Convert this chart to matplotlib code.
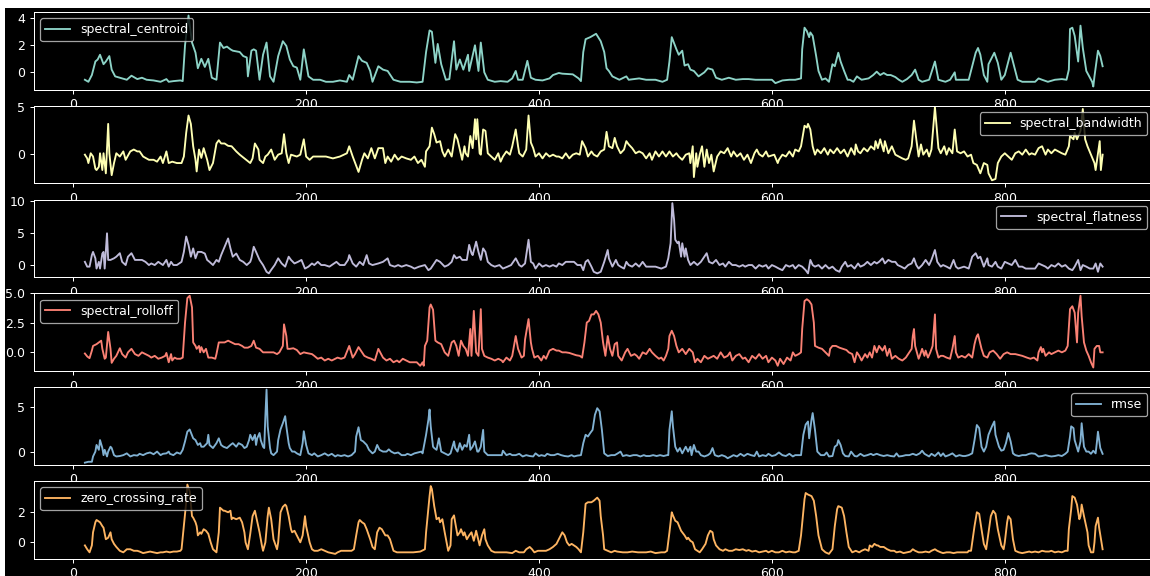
import numpy as np
import matplotlib
matplotlib.use("Agg")
import matplotlib.pyplot as plt
from matplotlib.patches import Rectangle

# values, (index, value) vertices per feature
spectral_centroid = [
    (10, -0.55), (13, -0.7), (16, -0.2), (19, 0.8), (21, 0.95), (23, 1.3), (26, 0.6), (28, 0.8), (31, 1.2), (33, 0.2),
    (36, -0.3), (40, -0.4), (46, -0.55), (50, -0.25), (55, -0.5), (59, -0.4), (63, -0.55), (69, -0.6), (75, -0.7), (80, -0.5),
    (82, -0.7), (86, -0.65), (92, -0.6), (94, -0.65), (96, 2.0), (99, 4.2), (102, 2.2), (105, 1.45), (107, 0.3), (110, 1.0),
    (113, 0.4), (116, 1.0), (119, -0.4), (123, -0.55), (126, 2.2), (129, 1.8), (132, 1.9), (135, 1.7), (137, 1.6), (143, 1.5),
    (146, 1.2), (149, 1.1), (150, -0.3), (153, 1.6), (155, 1.7), (157, 1.6), (160, -0.55), (163, 1.3), (166, 2.2), (169, -0.3),
    (172, -0.7), (176, 1.2), (180, 2.3), (183, 1.95), (186, 0.95), (189, 0.45), (192, 0.35), (195, -0.55), (198, 1.7), (202, -0.3),
    (206, -0.55), (212, -0.55), (217, -0.7), (223, -0.7), (229, -0.6), (235, -0.7), (237, -0.2), (240, -0.55), (245, 1.2), (248, 0.85),
    (252, 0.7), (255, 0.1), (257, -0.7), (262, 0.45), (266, 0.2), (270, 0.1), (275, -0.55), (281, -0.7), (289, -0.7), (295, -0.75),
    (300, -0.7), (303, 1.5), (306, 3.1), (308, 3.0), (311, 0.7), (313, 2.1), (316, 0.6), (320, -0.55), (323, -0.5), (327, 2.3),
    (329, 0.2), (332, 0.95), (335, 0.2), (339, 1.3), (340, 0.1), (345, 2.0), (348, 0.1), (350, 2.2), (353, 0.0), (356, -0.55),
    (362, -0.7), (367, -0.65), (373, -0.7), (377, -0.45), (380, 0.1), (382, -0.55), (386, -0.55), (390, 0.85), (393, -0.4), (397, -0.55),
    (403, -0.6), (409, -0.45), (412, -0.2), (417, -0.05), (420, -0.1), (429, -0.15), (434, -0.45), (436, -0.65), (438, 1.5), (440, 2.45),
    (444, 2.6), (449, 2.85), (453, 2.3), (456, 1.5), (458, 0.3), (460, 0.1), (463, -0.3), (469, -0.55), (475, -0.3), (477, -0.55),
    (486, -0.45), (492, -0.55), (500, -0.55), (506, -0.7), (510, -0.55), (512, 0.8), (514, 2.6), (518, 1.7), (520, 1.3), (523, 1.6),
    (525, 0.5), (528, 0.6), (530, 0.2), (533, 0.1), (537, -0.3), (542, 0.0), (545, 0.3), (549, 0.2), (552, -0.4), (557, -0.55),
    (563, -0.4), (569, -0.55), (575, -0.5), (580, -0.5), (586, -0.55), (589, -0.55), (600, -0.55), (603, -0.8), (609, -0.6), (615, -0.55),
    (620, -0.55), (625, -0.45), (626, 1.7), (628, 3.3), (630, 3.05), (632, 2.6), (633, 2.95), (635, 2.7), (638, 1.2), (640, 0.1),
    (643, -0.55), (646, -0.45), (649, -0.7), (652, 0.6), (654, 0.45), (657, 1.45), (659, 0.8), (662, 0.1), (665, -0.55), (667, -0.55),
    (670, -0.7), (673, -0.3), (677, -0.55), (683, -0.45), (687, -0.2), (690, 0.05), (693, -0.2), (696, -0.05), (699, -0.2), (702, -0.2),
    (706, -0.35), (709, -0.55), (712, -0.7), (716, -0.5), (720, -0.2), (723, 0.2), (726, -0.55), (729, -0.7), (735, -0.55), (740, 0.8),
    (743, -0.55), (749, -0.7), (753, -0.55), (757, 0.0), (758, -0.55), (763, -0.55), (769, -0.55), (772, 0.45), (775, 1.45), (777, 1.8),
    (779, 1.3), (782, -0.2), (785, -0.7), (786, 0.6), (789, 1.1), (791, 1.45), (794, 0.7), (797, -0.55), (800, -0.2), (803, 0.8),
    (805, 1.45), (808, 0.45), (811, -0.55), (815, -0.7), (820, -0.7), (826, -0.7), (829, -0.45), (832, -0.55), (837, -0.7), (843, -0.55),
    (849, -0.5), (853, -0.55), (855, 0.2), (856, 3.2), (858, 3.3), (860, 2.7), (863, 0.8), (865, 3.45), (867, 1.8), (870, 0.1),
    (875, -0.7), (876, -1.05), (877, -0.3), (880, 1.6), (882, 1.2), (884, 0.45),
]

spectral_bandwidth = [
    (10, -0.1), (12, -0.5), (13, -1.0), (15, 0.05), (17, -0.3), (19, -1.6), (20, -1.75), (22, -1.4), (23, 0.05), (25, -1.75),
    (26, 0.05), (28, -2.1), (30, 3.2), (31, 0.05), (33, -2.3), (35, -1.0), (37, 0.05), (40, -0.3), (43, 0.25), (45, -0.65),
    (49, 0.25), (52, 0.45), (55, 0.25), (57, 0.25), (60, -0.3), (65, -0.65), (69, -0.65), (72, -0.85), (75, -0.3), (77, -1.0),
    (80, 0.25), (82, -1.0), (85, -0.85), (89, -1.0), (93, -1.0), (95, -0.3), (97, 2.25), (99, 4.1), (101, 3.2), (103, 0.8),
    (105, -0.65), (106, -1.9), (108, 0.45), (110, -0.45), (112, 0.6), (115, -0.65), (117, -1.75), (120, -1.0), (123, 1.1), (125, 1.45),
    (127, 1.1), (130, 1.1), (133, 0.85), (136, 0.8), (140, 0.25), (143, -0.1), (147, -0.5), (152, -1.0), (154, -0.5), (156, 1.1),
    (159, 0.45), (160, -0.65), (163, -1.0), (165, -0.3), (167, -0.1), (170, 0.45), (173, -0.65), (176, -0.1), (179, 0.05), (181, 2.1),
    (183, 0.05), (185, -1.0), (187, -0.1), (192, -0.3), (195, -0.1), (198, 1.55), (200, -0.3), (203, -0.65), (206, -0.3), (212, -0.3),
    (217, -0.3), (223, -0.5), (229, -0.3), (235, 0.05), (237, 0.8), (240, -0.3), (245, -1.95), (248, -0.65), (250, 0.05), (253, -0.5),
    (256, 0.6), (259, -0.5), (262, 0.6), (266, 0.6), (268, -1.0), (270, -0.3), (273, -0.85), (276, -0.1), (279, -0.65), (282, -0.3),
    (286, -0.5), (290, -0.65), (293, -0.3), (296, -1.0), (299, -0.65), (302, -1.4), (303, 0.25), (306, 0.8), (308, 2.8), (310, 2.1),
    (312, 1.2), (315, 1.35), (317, 0.25), (319, -0.3), (322, 0.45), (325, -0.3), (328, 2.1), (330, 1.55), (332, 0.45), (334, -0.65),
    (336, 0.8), (337, 0.05), (339, -0.3), (341, 1.9), (343, 0.6), (345, 3.7), (346, 1.55), (347, 3.7), (349, 0.05), (350, -0.1),
    (352, 2.6), (354, 2.45), (356, 0.05), (359, -0.3), (362, -0.65), (365, 0.05), (367, -0.85), (369, -0.3), (372, 0.25), (375, -0.1),
    (377, 0.8), (380, 2.6), (382, 0.8), (383, 0.05), (386, -0.3), (389, 0.45), (391, 4.1), (393, 1.2), (395, 0.6), (397, -0.3),
    (400, 0.05), (403, -0.5), (406, 0.05), (409, -0.3), (412, -0.1), (415, -0.3), (417, -0.3), (420, -0.5), (423, 0.05), (426, -0.5),
    (429, -0.1), (432, 0.05), (435, -0.1), (437, 1.35), (440, 0.6), (442, -0.3), (445, 0.25), (447, -0.1), (450, -0.3), (453, 0.25),
    (456, 0.45), (458, 2.35), (460, 0.8), (463, 0.6), (465, 1.7), (467, 0.8), (470, 0.05), (473, 0.45), (475, 1.35), (477, 1.0),
    (480, 0.6), (483, 0.05), (486, 0.25), (489, 0.05), (492, -0.5), (495, 0.05), (497, -0.65), (500, 0.25), (503, -0.3), (506, 0.25),
    (509, -0.3), (512, 0.25), (515, -0.3), (518, 0.05), (520, -0.3), (523, -0.65), (526, -0.1), (529, 0.05), (530, -1.0), (532, 0.8),
    (533, -2.5), (535, 0.05), (536, -1.4), (538, -0.1), (540, 0.8), (542, -1.4), (544, 0.45), (546, -1.0), (548, -0.1), (550, -1.9),
    (553, -0.3), (556, 0.25), (559, 0.05), (562, 0.6), (565, -0.3), (567, 0.25), (570, -0.3), (573, 0.05), (576, -0.65), (579, -0.1),
    (582, -1.0), (585, 0.05), (587, 0.45), (589, -0.05), (592, -0.3), (595, 0.25), (597, -0.3), (602, -0.1), (605, -1.0), (606, -0.65),
    (609, -0.1), (612, -0.3), (615, 0.25), (618, -0.3), (620, 0.45), (623, 0.25), (625, 0.8), (628, 3.0), (630, 2.8), (631, 3.2),
    (633, 2.6), (635, 0.8), (637, -0.1), (639, 0.45), (642, 0.05), (645, 0.6), (648, -0.1), (650, 0.45), (653, 0.05), (656, 0.6),
    (659, 0.05), (662, 0.45), (665, -0.3), (668, 0.6), (671, -0.1), (672, 1.0), (674, 0.25), (676, 0.05), (679, 0.6), (682, 0.25),
    (685, 0.8), (688, 0.45), (689, 1.35), (691, 0.6), (693, 1.55), (696, 0.25), (697, 1.35), (700, 0.05), (703, 0.8), (706, -0.1),
    (709, -0.3), (712, -0.5), (715, -0.65), (717, -0.5), (720, 0.8), (722, 3.55), (724, 1.55), (726, -0.3), (728, 1.0), (730, -0.1),
    (733, 0.45), (735, -0.3), (737, 0.45), (740, 5.0), (743, 0.6), (745, 0.05), (748, 0.8), (750, -0.1), (752, 0.6), (755, 0.05),
    (757, 2.6), (759, 0.25), (762, 0.05), (765, 0.25), (768, -0.3), (771, -0.1), (773, -1.0), (776, -1.2), (779, -2.1), (782, -1.0),
    (785, -1.2), (786, -2.1), (789, -2.85), (792, -2.7), (794, -1.0), (797, -0.3), (800, 0.05), (803, -0.3), (806, -0.65), (809, 0.05),
    (812, 0.25), (815, -0.1), (818, 0.45), (821, -0.1), (823, 0.05), (826, -0.1), (829, 0.6), (832, 0.8), (835, -0.1), (837, 0.45),
    (840, 0.05), (843, 0.45), (846, 0.25), (849, 0.05), (852, -0.1), (855, 0.8), (856, 1.9), (859, 1.55), (860, 2.25), (862, 1.55),
    (865, 2.45), (867, 4.8), (869, 1.55), (871, 0.8), (874, -0.1), (877, -1.0), (878, -1.75), (880, 0.05), (881.5, 1.35), (882.5, -1.75),
    (884, -0.1),
]

spectral_flatness = [
    (10, 0.45), (12, -0.3), (14, -0.3), (16, 1.5), (17, 2.0), (19, 1.0), (20, -0.6), (22, 0.45), (23, -0.6), (25, 1.75),
    (26, 2.0), (27, -0.6), (29, 4.9), (30, 0.75), (32, 0.75), (35, 1.0), (37, 1.25), (40, 1.8), (42, 0.45), (45, -0.05),
    (47, 1.25), (50, 1.8), (53, 0.75), (56, 0.75), (59, 0.75), (62, 0.45), (65, -0.05), (67, 0.2), (70, -0.05), (73, 0.45),
    (77, -0.05), (80, 0.75), (82, -0.3), (84, 0.45), (86, -0.05), (89, -0.05), (93, 0.45), (95, 2.0), (97, 4.4), (99, 3.1),
    (101, 1.25), (103, 2.55), (105, 1.0), (107, 2.0), (110, 2.0), (113, 1.75), (115, 0.75), (117, 0.45), (120, -0.05), (123, 0.75),
    (125, 0.45), (127, 1.5), (130, 2.8), (133, 4.1), (135, 2.55), (137, 1.25), (140, 1.75), (143, 0.75), (146, 0.45), (149, -0.05),
    (152, 0.45), (153, 1.0), (155, 2.8), (157, 2.0), (160, 0.75), (163, -0.05), (166, -1.1), (168, -1.35), (170, -0.8), (173, -0.05),
    (176, 1.0), (179, 0.2), (182, -0.3), (185, 1.25), (187, 0.75), (190, 0.2), (193, 0.45), (196, 0.75), (199, -0.6), (202, -0.3),
    (205, 0.2), (207, -0.05), (210, 0.45), (213, -0.05), (216, -0.05), (220, -0.3), (226, 0.45), (229, -0.05), (233, -0.05), (236, 0.75),
    (237, 1.5), (240, 0.2), (243, -0.3), (246, 0.45), (249, -0.05), (252, 1.5), (254, 0.2), (257, -0.05), (262, 0.2), (266, 0.45),
    (270, 1.0), (272, -0.05), (276, -0.3), (279, -0.05), (282, -0.3), (286, -0.05), (290, -0.3), (293, -0.6), (297, -0.3), (302, -0.05),
    (305, -0.85), (307, -0.6), (312, 0.75), (315, 0.45), (319, -0.3), (322, -0.05), (325, 0.45), (327, 1.5), (329, 1.0), (332, 1.25),
    (334, 0.75), (338, 0.75), (340, 3.1), (342, 1.8), (343, 1.5), (346, 3.6), (348, 2.0), (350, 0.75), (352, 2.55), (354, 2.0),
    (356, 0.45), (359, -0.05), (362, -0.3), (366, -0.05), (369, -0.6), (373, -0.3), (376, -0.05), (379, 0.75), (380, 1.0), (383, -0.05),
    (385, -0.3), (388, 0.2), (391, 3.9), (393, 0.45), (395, 0.2), (397, -0.6), (400, 0.2), (403, -0.3), (406, -0.05), (409, -0.3),
    (412, -0.05), (415, -0.3), (417, 0.2), (420, -0.05), (423, 0.45), (427, 0.45), (430, 0.45), (433, -0.05), (436, -0.05), (438, -0.85),
    (440, 0.45), (442, 0.75), (445, -0.3), (447, -1.1), (450, -1.35), (453, -1.1), (456, 0.45), (459, 2.3), (460, 1.0), (463, -0.3),
    (466, 0.75), (468, -0.05), (470, -0.3), (473, -0.6), (475, 0.45), (477, -0.05), (480, -0.3), (483, 0.2), (486, -0.3), (489, 0.45),
    (492, -0.3), (496, -0.3), (500, -0.3), (505, -0.6), (509, -0.3), (511, 1.0), (513, 3.35), (514.5, 9.6), (516, 7.0), (517, 3.9),
    (519, 3.35), (520, 3.6), (522, 1.25), (523, 3.35), (525, 1.25), (526, 2.55), (528, 0.75), (530, -0.05), (533, 0.45), (536, -0.05),
    (539, 0.45), (542, 1.25), (544, 1.8), (546, 0.45), (549, 0.2), (552, 0.75), (555, -0.05), (558, 0.2), (560, -0.3), (563, 0.45),
    (566, -0.05), (569, -0.05), (572, -0.3), (575, -0.05), (577, -0.3), (580, -0.05), (583, -0.05), (586, -0.6), (589, -0.05), (592, -0.3),
    (595, -0.05), (597, -0.6), (600, -0.05), (603, -0.3), (606, -0.6), (609, -0.85), (612, -0.05), (615, -0.3), (618, -0.05), (620, -0.6),
    (623, -0.05), (626, -0.3), (629, -0.85), (631, -1.35), (633, 0.75), (635, -0.05), (637, -0.3), (640, -0.05), (643, -0.6), (646, -0.05),
    (649, -0.6), (652, -0.3), (655, -0.85), (658, -1.1), (660, -0.3), (663, 0.45), (665, -0.3), (668, -0.05), (671, -0.6), (674, 0.2),
    (676, -0.3), (679, -0.05), (682, 0.45), (685, -0.05), (688, 0.45), (690, 0.2), (692, 0.45), (695, 1.0), (697, 0.2), (700, 0.75),
    (703, 0.45), (706, 0.45), (708, -0.05), (711, -0.3), (714, -0.6), (717, -0.05), (720, 0.2), (722, 1.0), (724, -0.05), (726, -0.6),
    (729, -0.05), (732, 0.75), (735, -0.05), (737, 0.75), (740, 2.3), (742, 0.45), (745, -0.3), (747, -0.05), (750, -0.3), (753, -0.6),
    (756, 0.75), (758, -0.3), (760, -0.6), (765, -0.3), (769, -0.6), (772, 1.25), (775, 1.8), (777, 1.0), (779, 1.25), (782, -0.3),
    (785, 1.0), (786, -0.05), (789, -0.3), (792, 0.45), (794, -0.3), (797, -0.6), (800, 0.45), (803, 0.2), (806, -0.05), (809, 0.75),
    (812, -0.3), (815, -0.3), (818, -0.6), (821, -0.6), (823, -0.6), (826, -0.6), (829, 0.2), (832, -0.05), (835, -0.3), (837, -0.6),
    (840, -0.05), (843, -0.3), (846, 0.2), (849, -0.3), (852, -0.05), (855, -0.6), (858, -0.85), (860, -0.3), (863, 0.75), (865, -0.85),
    (867, -0.05), (870, -0.3), (873, -0.6), (876, -0.6), (878, 0.2), (880, -1.1), (882, 0.2), (884, -0.3),
]

spectral_rolloff = [
    (10, -0.15), (12, -0.4), (14, -0.55), (16, 0.1), (17, 0.5), (20, 0.65), (22, 0.8), (24, 0.95), (25, 0.25), (27, -0.6),
    (28, -0.5), (30, 1.7), (32, 0.25), (33, -0.95), (35, -0.6), (37, -0.35), (40, 0.3), (42, -0.2), (45, -0.5), (47, -0.05),
    (50, 0.25), (53, -0.2), (56, -0.35), (59, -0.05), (62, -0.2), (65, -0.35), (67, -0.5), (70, -0.35), (73, -0.6), (76, -0.5),
    (79, -0.35), (80, -0.1), (82, -0.9), (84, -0.2), (85, -0.75), (87, -0.5), (89, -0.6), (92, -0.6), (94, -0.5), (96, 2.5),
    (98, 4.6), (100, 4.8), (102, 3.8), (103, 0.8), (105, 0.5), (106, 0.25), (108, 0.5), (109, -0.05), (110, 0.4), (112, -0.05),
    (114, 0.25), (116, -0.5), (119, -0.5), (122, -0.6), (123, -0.2), (125, 0.8), (127, 0.8), (130, 0.8), (133, 0.95), (136, 0.8),
    (139, 0.65), (142, 0.65), (145, 0.5), (147, 0.35), (150, 0.35), (153, 0.5), (155, 0.95), (157, 0.35), (160, 0.25), (163, -0.05),
    (166, -0.05), (169, -0.05), (172, -0.05), (175, -0.2), (177, -0.05), (180, 0.5), (181, 2.35), (183, 1.35), (184, 0.25), (186, 0.25),
    (189, 0.3), (192, 0.15), (195, -0.2), (198, -0.05), (200, -0.1), (205, -0.2), (207, -0.35), (210, -0.6), (213, -0.5), (216, -0.75),
    (219, -0.6), (222, -0.75), (225, -0.6), (227, -0.5), (230, -0.6), (233, -0.5), (236, 0.25), (237, 0.5), (240, -0.5), (242, -0.2),
    (245, 0.4), (247, 0.1), (250, -0.35), (253, -0.5), (256, -0.6), (259, -0.75), (262, 0.25), (266, -0.5), (269, -0.75), (272, -0.6),
    (275, -0.9), (278, -0.75), (280, -0.9), (283, -0.6), (286, -0.75), (289, -0.9), (292, -0.9), (295, -0.9), (298, -1.2), (300, -0.9),
    (301, -1.2), (302, 0.5), (304, 0.95), (306, 3.8), (307, 4.05), (309, 3.6), (311, 0.95), (313, 0.8), (316, 0.65), (319, -0.05),
    (322, -0.35), (325, 0.8), (327, 0.95), (329, 0.5), (331, -0.35), (333, 0.95), (335, 0.5), (337, 0.25), (339, -0.35), (341, 1.95),
    (342, -0.35), (344, 3.5), (346, -0.05), (348, -0.35), (350, 3.65), (351, 0.25), (353, -0.35), (356, -0.5), (359, -0.6), (362, -0.75),
    (365, -0.6), (368, -0.75), (369, -0.9), (372, -0.5), (375, -0.75), (377, -0.35), (380, 1.35), (382, 0.25), (385, -0.5), (387, -0.35),
    (388, 1.05), (391, 2.8), (393, 0.8), (394, 0.25), (396, -0.5), (399, -0.35), (402, -0.75), (404, -0.35), (406, -0.6), (409, 0.1),
    (412, 0.25), (415, 0.1), (417, 0.1), (420, -0.05), (423, -0.05), (426, -0.1), (429, -0.2), (432, -0.3), (435, -0.35), (437, -0.5),
    (439, 0.8), (441, 2.5), (443, 2.65), (445, 3.2), (447, 3.2), (449, 3.5), (451, 3.2), (453, 2.5), (455, 0.8), (457, -0.35),
    (459, 1.35), (461, 0.25), (463, -0.35), (465, 0.65), (467, 0.8), (468, -0.35), (471, -0.75), (474, -0.05), (476, 0.25), (479, -0.35),
    (482, -0.2), (484, -0.35), (486, -0.6), (489, -0.05), (492, -0.2), (495, 0.25), (497, -0.05), (500, -0.35), (503, -0.6), (505, -0.5),
    (507, -0.75), (509, -0.35), (511, 0.25), (512, 1.35), (514, 1.8), (516, 1.35), (518, 0.5), (520, -0.05), (523, 0.25), (526, -0.2),
    (529, 0.25), (532, -0.05), (534, -0.9), (536, -0.6), (539, -0.9), (542, -0.35), (545, -0.6), (547, -0.5), (550, -0.35), (553, -0.6),
    (556, -0.05), (559, -0.5), (562, -0.35), (564, -0.05), (566, -0.75), (569, -0.35), (572, -0.2), (575, -0.6), (577, -0.5), (580, -0.9),
    (583, -0.35), (586, -0.6), (589, -0.2), (592, -0.6), (595, -0.35), (597, -0.9), (600, -0.5), (603, -0.75), (605, -1.2), (607, -0.6),
    (610, -1.05), (613, -0.5), (616, -0.75), (618, -0.05), (620, -0.35), (623, -0.2), (625, -0.05), (626, 1.95), (628, 4.35), (630, 4.5),
    (632, 4.35), (634, 4.05), (636, 2.5), (637, 0.5), (640, 0.35), (643, 0.25), (646, -0.05), (649, -0.35), (650, 0.25), (652, 0.5),
    (655, 0.5), (658, 0.35), (661, 0.25), (664, 0.15), (666, -0.05), (669, -0.2), (671, -0.9), (673, -0.05), (675, -0.35), (677, -0.75),
    (680, -0.2), (682, -0.5), (684, -0.05), (686, -0.5), (688, 0.5), (690, -0.05), (692, 0.5), (695, 0.1), (697, 0.5), (699, -0.35),
    (701, 0.25), (703, -0.6), (706, -0.35), (709, -0.6), (712, -0.75), (715, -0.5), (717, -0.2), (720, 0.25), (721, 1.35), (722, 1.95),
    (723, 0.5), (726, -0.6), (727, -0.35), (729, 0.25), (731, -0.35), (732, 0.1), (734, -0.5), (736, -0.05), (738, 0.5), (740, 3.2),
    (741, 0.25), (743, -0.5), (745, -0.35), (747, -0.35), (750, -0.5), (753, -0.6), (755, 0.25), (757, 1.35), (758, -0.05), (760, -0.5),
    (763, -0.35), (766, -0.5), (769, -0.2), (772, -0.5), (774, 0.65), (775, 1.05), (776, 1.35), (777, 1.5), (780, 0.25), (782, -0.35),
    (785, -0.5), (787, -0.05), (790, 0.1), (793, -0.2), (796, -0.6), (799, -0.2), (802, -0.05), (805, -0.2), (809, -0.2), (815, -0.35),
    (819, -0.5), (822, -0.6), (825, -0.5), (828, -0.75), (829, -0.05), (831, 0.4), (832, -0.05), (833, 0.25), (835, -0.35), (838, -0.05),
    (840, -0.2), (843, -0.05), (846, 0.1), (849, -0.05), (852, 0.1), (854, 0.5), (856, 3.65), (858, 3.9), (860, 3.35), (862, 0.8),
    (863, 3.35), (865, 4.8), (866, 3.05), (868, 0.8), (870, 0.1), (872, -0.35), (874, -0.9), (876, -1.35), (877, 0.25), (879, 0.5),
    (881, 0.5), (882, -0.05), (884, -0.05),
]

rmse = [
    (10, -1.25), (13, -1.15), (16, -1.15), (17, -0.55), (19, 0.0), (20, 0.75), (22, 0.2), (23, 1.3), (25, 0.4), (26, -0.4),
    (27, 0.2), (29, -0.55), (30, 0.0), (32, 0.55), (33, 0.4), (35, -0.4), (37, -0.55), (40, -0.5), (43, -0.4), (46, -0.2),
    (49, -0.55), (52, -0.4), (55, -0.45), (57, -0.25), (60, -0.4), (63, -0.2), (66, -0.1), (69, -0.3), (72, 0.0), (75, -0.4),
    (77, -0.25), (80, -0.2), (82, 0.0), (83, -0.25), (86, -0.4), (89, -0.1), (92, -0.25), (94, 0.2), (96, 1.15), (98, 2.25),
    (100, 2.5), (103, 1.5), (105, 1.3), (107, 0.75), (109, 0.95), (110, 0.55), (112, 0.55), (115, 0.95), (116, 1.9), (117, 0.75),
    (120, 0.4), (123, 0.95), (125, 1.5), (127, 0.75), (129, 0.55), (132, 0.4), (135, 0.75), (137, 0.95), (140, 0.55), (142, 0.95),
    (145, 0.75), (147, 0.4), (149, 0.55), (151, 1.3), (152, 1.9), (154, 1.3), (156, 1.9), (157, 0.75), (158, 1.5), (160, 2.1),
    (161, 1.3), (163, 0.55), (164, 0.4), (165, 4.0), (166, 7.0), (167, 2.85), (169, 0.4), (170, -0.2), (172, -0.4), (175, 0.0),
    (176, 1.3), (178, 2.5), (180, 3.2), (182, 4.0), (183, 2.85), (185, 0.95), (186, 0.4), (188, 0.0), (190, 0.0), (192, -0.2),
    (195, -0.4), (197, 0.95), (198, 2.3), (200, 0.75), (202, -0.2), (205, -0.4), (207, -0.2), (210, -0.55), (213, -0.4), (216, -0.2),
    (219, -0.45), (222, -0.25), (225, -0.55), (227, -0.4), (230, -0.5), (233, -0.4), (236, -0.55), (239, -0.4), (242, 0.0), (243, 1.7),
    (245, 2.75), (247, 1.3), (249, 1.15), (252, 0.75), (254, 0.2), (257, -0.2), (259, 0.0), (261, 0.75), (263, 0.2), (266, 0.0),
    (269, 0.0), (271, 0.25), (273, 0.0), (276, -0.2), (279, -0.1), (282, -0.4), (285, -0.4), (287, -0.25), (290, -0.4), (293, -0.2),
    (296, -0.1), (299, 0.0), (300, -0.2), (303, 1.9), (305, 3.6), (306, 4.75), (307, 2.85), (309, 0.55), (310, 0.4), (312, 0.2),
    (314, 1.5), (316, 0.0), (319, -0.2), (322, -0.4), (324, -0.2), (327, 1.15), (328, 0.4), (330, 0.0), (332, 0.95), (334, 0.2),
    (336, 0.75), (338, 0.55), (340, 1.9), (341, 0.2), (343, 0.55), (345, 1.15), (347, 0.0), (348, 0.0), (350, 0.55), (352, 2.45),
    (353, 0.0), (356, -0.4), (359, -0.4), (362, -0.4), (365, -0.4), (368, -0.4), (369, 0.1), (372, -0.4), (375, -0.25), (377, -0.4),
    (380, -0.4), (383, -0.25), (386, -0.55), (389, -0.4), (392, -0.5), (395, -0.55), (397, -0.2), (400, -0.5), (402, -0.4), (405, -0.5),
    (407, -0.25), (410, -0.4), (413, -0.4), (416, -0.25), (419, -0.4), (422, -0.5), (425, -0.55), (428, -0.4), (430, -0.55), (433, -0.45),
    (436, -0.4), (438, 0.95), (440, 1.9), (442, 1.7), (444, 2.1), (446, 2.45), (448, 4.15), (450, 4.9), (452, 4.55), (454, 2.45),
    (456, -0.2), (459, -0.5), (462, -0.4), (465, -0.4), (467, -0.25), (470, 0.0), (472, -0.5), (475, -0.4), (478, -0.5), (481, -0.4),
    (484, -0.4), (487, -0.55), (490, -0.4), (492, -0.5), (495, -0.5), (498, -0.4), (501, -0.5), (504, -0.4), (507, -0.5), (510, -0.4),
    (511, -0.4), (512, 2.45), (514, 4.55), (515, 2.85), (517, 0.55), (519, 0.0), (521, 0.4), (523, -0.2), (526, 0.55), (528, 0.0),
    (530, 0.55), (531, -0.4), (533, 0.75), (535, 0.0), (537, 0.0), (539, -0.4), (542, -0.55), (545, -0.4), (547, -0.2), (549, 0.4),
    (551, -0.4), (554, -0.55), (557, -0.4), (560, -0.55), (562, -0.75), (565, -0.55), (567, -0.4), (570, -0.55), (573, -0.25), (576, -0.5),
    (579, -0.25), (582, -0.4), (585, -0.5), (587, 0.0), (589, -0.55), (592, -0.4), (595, -0.5), (597, -0.25), (600, -0.5), (603, -0.4),
    (606, -0.1), (609, -0.4), (612, -0.5), (615, -0.25), (618, -0.55), (620, -0.4), (623, -0.4), (625, -0.4), (627, 1.9), (629, 3.05),
    (631, 3.4), (632, 1.5), (634, 3.6), (635, 4.35), (637, 2.45), (639, 0.0), (642, -0.4), (645, -0.4), (647, -0.1), (649, -0.55),
    (652, -0.5), (654, 0.55), (656, 0.75), (657, 1.3), (659, 0.75), (661, -0.2), (663, -0.5), (666, -0.55), (668, 0.0), (671, -0.5),
    (673, -0.55), (676, -0.25), (679, -0.5), (682, -0.4), (685, -0.25), (687, -0.4), (690, -0.25), (693, -0.4), (696, -0.5), (699, -0.4),
    (702, -0.5), (705, -0.55), (707, -0.2), (709, -0.55), (712, -0.5), (715, -0.4), (718, -0.4), (721, -0.25), (724, -0.4), (727, -0.2),
    (729, 0.1), (731, -0.25), (733, -0.4), (735, -0.55), (737, -0.25), (740, -0.5), (743, -0.1), (745, -0.5), (747, -0.2), (749, -0.55),
    (752, -0.4), (755, -0.2), (758, -0.55), (761, -0.4), (764, -0.5), (766, -0.5), (769, -0.4), (772, -0.2), (774, 1.3), (776, 3.0),
    (778, 2.65), (780, 0.55), (782, 0.0), (784, 0.55), (786, 1.9), (789, 2.85), (791, 3.4), (792, 1.9), (795, 0.55), (797, 0.1),
    (799, 0.2), (801, 0.95), (803, 2.1), (805, 1.15), (807, -0.2), (809, -0.4), (812, -0.5), (815, -0.4), (818, -0.4), (821, -0.25),
    (823, -0.2), (826, -0.25), (829, -0.55), (832, -0.5), (835, -0.4), (838, -0.5), (840, -0.55), (843, -0.5), (846, -0.4), (849, -0.5),
    (852, -0.25), (854, 0.0), (856, 1.7), (857, 2.85), (859, 2.65), (860, 1.3), (863, 0.0), (865, 1.15), (866, 3.2), (868, 0.55),
    (870, 0.0), (872, 0.0), (874, -0.25), (876, 0.1), (878, -0.2), (879, 0.95), (880, 2.25), (882, 0.4), (884, -0.25),
]

zero_crossing_rate = [
    (10, -0.2), (12, -0.45), (14, -0.65), (16, -0.2), (17, 0.65), (19, 1.3), (20, 1.45), (23, 1.3), (25, 1.05), (26, 0.95),
    (28, 0.2), (30, 0.3), (32, 0.65), (33, 0.2), (35, -0.1), (37, -0.3), (40, -0.55), (43, -0.65), (46, -0.45), (49, -0.45),
    (52, -0.55), (55, -0.55), (57, -0.6), (60, -0.7), (63, -0.65), (66, -0.6), (69, -0.65), (72, -0.7), (75, -0.65), (77, -0.65),
    (80, -0.6), (83, -0.65), (86, -0.6), (89, -0.6), (92, -0.55), (93, -0.45), (95, 1.05), (97, 2.6), (98, 3.75), (100, 3.3),
    (102, 1.7), (103, 1.6), (105, 1.3), (106, 1.05), (107, 0.45), (109, 0.65), (110, 0.55), (112, 0.85), (114, 0.75), (116, 0.55),
    (118, 0.0), (120, -0.45), (123, -0.65), (125, 0.65), (126, 2.25), (129, 2.05), (130, 2.05), (133, 1.95), (135, 2.05), (136, 1.5),
    (137, 1.6), (140, 1.5), (143, 1.6), (145, 1.3), (147, 0.65), (148, 0.0), (150, -0.45), (152, 0.55), (154, 1.7), (156, 2.05),
    (157, 1.7), (160, 0.65), (162, -0.2), (163, -0.55), (165, 0.0), (167, 1.7), (168, 2.25), (170, 1.5), (172, 0.2), (175, -0.45),
    (176, 0.0), (178, 1.95), (180, 2.3), (182, 2.45), (183, 2.35), (185, 1.7), (187, 0.85), (188, 0.65), (190, 0.75), (192, 0.45),
    (195, 0.0), (197, 0.45), (199, 1.7), (200, 1.05), (203, 0.0), (205, -0.45), (207, -0.55), (210, -0.55), (213, -0.45), (216, -0.55),
    (219, -0.65), (222, -0.7), (225, -0.75), (227, -0.65), (230, -0.55), (233, -0.55), (236, -0.55), (239, -0.55), (241, -0.45), (243, 0.45),
    (245, 1.3), (246, 1.45), (248, 1.3), (250, 1.2), (252, 0.85), (255, 0.2), (257, -0.3), (259, -0.45), (261, 0.65), (263, 0.95),
    (265, 0.85), (268, 0.45), (270, 0.45), (272, 0.2), (275, -0.55), (278, -0.65), (280, -0.65), (286, -0.65), (292, -0.65), (298, -0.6),
    (302, -0.45), (303, 0.65), (306, 3.0), (307, 3.65), (308, 3.45), (310, 2.35), (312, 1.5), (314, 1.6), (315, 1.3), (317, 1.5),
    (319, 0.65), (322, -0.55), (324, -0.2), (325, 1.5), (327, 1.75), (328, 1.3), (330, 0.45), (332, 0.65), (333, 0.85), (335, 0.45),
    (336, 0.65), (338, 0.2), (340, 0.45), (342, 0.65), (344, 0.1), (346, 0.75), (348, 0.1), (349, -0.2), (351, 0.45), (353, 0.85),
    (354, 0.2), (356, -0.2), (359, -0.55), (362, -0.65), (366, -0.65), (372, -0.65), (377, -0.7), (380, -0.55), (383, -0.65), (387, -0.65),
    (389, -0.45), (392, -0.3), (394, -0.45), (396, -0.65), (399, -0.55), (403, -0.55), (406, -0.55), (409, -0.45), (412, -0.3), (415, -0.1),
    (417, 0.2), (420, 0.65), (422, 0.45), (424, 0.0), (426, -0.2), (428, -0.1), (430, -0.2), (432, -0.3), (434, -0.45), (436, -0.65),
    (438, 0.65), (440, 2.5), (442, 2.6), (445, 2.6), (447, 2.7), (450, 2.9), (452, 2.7), (453, 1.7), (455, 0.45), (456, -0.45),
    (459, -0.55), (462, -0.65), (465, -0.55), (467, -0.6), (472, -0.65), (476, -0.65), (480, -0.6), (485, -0.65), (489, -0.65), (492, -0.65),
    (496, -0.6), (500, -0.7), (505, -0.65), (508, -0.65), (510, -0.55), (512, 0.65), (514, 1.95), (515, 1.75), (517, 1.4), (519, 1.3),
    (522, 0.75), (523, 0.65), (525, 0.45), (527, 0.2), (528, 0.3), (530, 0.1), (532, 0.0), (534, -0.45), (536, -0.55), (538, -0.65),
    (540, -0.45), (543, -0.1), (545, 0.45), (547, 0.75), (549, 0.65), (550, 0.2), (552, -0.2), (555, -0.45), (558, -0.55), (560, -0.45),
    (563, -0.55), (566, -0.55), (569, -0.45), (572, -0.5), (575, -0.45), (578, -0.55), (580, -0.5), (583, -0.6), (586, -0.55), (589, -0.65),
    (592, -0.6), (595, -0.55), (597, -0.65), (600, -0.55), (603, -0.65), (606, -0.65), (609, -0.55), (612, -0.65), (615, -0.6), (618, -0.65),
    (620, -0.65), (623, -0.55), (625, 0.45), (628, 2.8), (629, 3.2), (631, 3.1), (634, 3.0), (636, 2.7), (638, 1.7), (640, 0.45),
    (643, -0.45), (646, -0.65), (649, -0.75), (652, -0.45), (654, 1.05), (656, 2.15), (657, 2.35), (660, 2.25), (662, 1.7), (664, 0.65),
    (666, -0.3), (669, -0.65), (672, -0.55), (675, -0.65), (677, -0.55), (680, -0.45), (683, -0.55), (684, -0.2), (686, -0.3), (688, -0.1),
    (690, -0.2), (691, -0.2), (693, -0.3), (696, -0.3), (699, -0.45), (702, -0.55), (705, -0.55), (707, -0.65), (710, -0.6), (713, -0.7),
    (716, -0.65), (719, -0.6), (721, -0.45), (723, -0.55), (726, -0.65), (729, -0.65), (732, -0.6), (735, -0.65), (737, -0.55), (740, -0.45),
    (742, -0.55), (745, -0.65), (747, -0.7), (750, -0.65), (753, -0.65), (756, -0.7), (759, -0.65), (762, -0.65), (765, -0.65), (768, -0.65),
    (769, -0.55), (771, -0.55), (772, 0.0), (774, 1.05), (776, 1.95), (778, 1.85), (780, 0.85), (782, -0.1), (784, -0.45), (786, 0.65),
    (788, 1.7), (790, 2.05), (792, 1.85), (794, 0.85), (797, -0.2), (799, -0.45), (800, 0.0), (802, 1.3), (803, 1.7), (805, 1.5),
    (807, 0.2), (809, -0.55), (812, -0.65), (815, -0.7), (818, -0.65), (821, -0.6), (823, -0.65), (826, -0.6), (829, -0.65), (832, -0.55),
    (835, -0.6), (838, -0.6), (840, -0.55), (843, -0.65), (846, -0.6), (849, -0.65), (852, -0.55), (854, -0.55), (855, 0.85), (857, 2.15),
    (858, 3.0), (860, 2.9), (862, 2.45), (864, 1.5), (865, 1.7), (866, 2.45), (868, 1.7), (871, 0.65), (872, -0.2), (874, -0.65),
    (876, -0.65), (877, 0.0), (878, 1.05), (880, 1.6), (881, 0.95), (884, -0.45),
]

names = ["spectral_centroid", "spectral_bandwidth", "spectral_flatness",
         "spectral_rolloff", "rmse", "zero_crossing_rate"]
series = [spectral_centroid, spectral_bandwidth, spectral_flatness,
          spectral_rolloff, rmse, zero_crossing_rate]
y_limits = [(-1.27, 4.46), (-3.17, 5.14), (-1.93, 10.16), (-1.64, 5.0), (-1.48, 7.27), (-1.05, 3.98)]
y_ticks = [[0, 2, 4], [0, 5], [0, 5, 10], [0.0, 2.5, 5.0], [0, 5], [0, 2]]
x_ticks = [0, 200, 400, 600, 800]
legend_loc = ["upper left", "upper right", "upper right", "upper left", "upper right", "upper left"]

plt.style.use("dark_background")
W, H = 1150, 576
DPI = 90
fig = plt.figure(figsize=(W / DPI, H / DPI), dpi=DPI)

colors = plt.rcParams["axes.prop_cycle"].by_key()["color"]

# layout in pixels (screenshot crop: axes run past the right edge)
left_px, width_px = 34, 1119.5
top_px, height_px, step_px = 12, 77.5, 93.8

for i, (name, data) in enumerate(zip(names, series)):
    top = top_px + i * step_px
    ax = fig.add_axes([left_px / W, 1 - (top + height_px) / H, width_px / W, height_px / H])
    arr = np.array(data)
    ax.plot(arr[:, 0], arr[:, 1], color=colors[i], label=name)
    ax.set_xlim(-33.7, 927.7)
    ax.set_ylim(*y_limits[i])
    ax.set_xticks(x_ticks)
    ax.set_yticks(y_ticks[i])
    if i == 3:
        ax.set_yticklabels(["0.0", "2.5", "5.0"])
    ax.legend(loc=legend_loc[i])

# white strips of the original screenshot
fig.add_artist(Rectangle((0, 1 - 8 / H), 1, 8 / H, transform=fig.transFigure,
                         facecolor="white", edgecolor="none", zorder=10))
fig.add_artist(Rectangle((0, 0), 5 / W, 1, transform=fig.transFigure,
                         facecolor="white", edgecolor="none", zorder=10))

fig.savefig("out.png", dpi=DPI, facecolor=fig.get_facecolor())
